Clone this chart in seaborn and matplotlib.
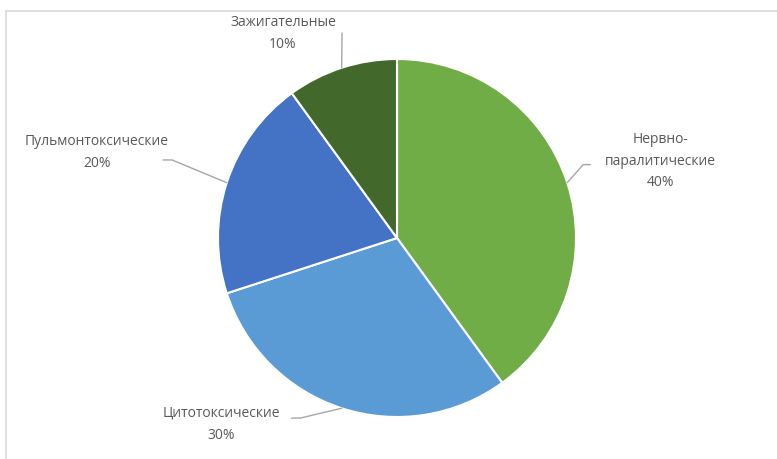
import numpy as np
import matplotlib
matplotlib.use("Agg")
import matplotlib.pyplot as plt
import seaborn as sns
from matplotlib.lines import Line2D

sns.set_theme(style="white")
plt.rcParams['font.family'] = ['Open Sans', 'DejaVu Sans']

categories = ["Нервно-\nпаралитические", "Цитотоксические", "Пульмонтоксические", "Зажигательные"]
values = [40, 30, 20, 10]
colors = ["#70AD47", "#5B9BD5", "#4472C4", "#43682B"]

W, H = 777, 459
fig = plt.figure(figsize=(W / 100, H / 100), dpi=100)
cx, cy, r = 397, 238, 179
ax = fig.add_axes([(cx - r) / W, (H - cy - r) / H, 2 * r / W, 2 * r / H])

wedges, _ = ax.pie(values, colors=colors, startangle=90, counterclock=False,
                   radius=1.0, wedgeprops=dict(edgecolor="white", linewidth=1.5))
ax.set_xlim(-1, 1)
ax.set_ylim(-1, 1)
ax.set_axis_off()

# label layout in data units: text centre, leader elbow, leader end
layout = [
    dict(text=(1.47, 0.43), elbow=(1.04, 0.41), end=(1.08, 0.41)),
    dict(text=(-0.98, -1.04), elbow=(-0.54, -1.006), end=(-0.59, -1.006)),
    dict(text=(-1.676, 0.478), elbow=(-1.257, 0.436), end=(-1.307, 0.436)),
    dict(text=(-0.637, 1.142), elbow=(-0.307, 1.145), end=(-0.307, 1.145)),
]
line_col = "#A6A6A6"
for w, cat, v, lay in zip(wedges, categories, values, layout):
    ang = np.deg2rad((w.theta1 + w.theta2) / 2)
    px, py = np.cos(ang), np.sin(ang)
    ex, ey = lay["elbow"]
    fx, fy = lay["end"]
    ax.add_line(Line2D([px, ex, fx], [py, ey, fy], color=line_col, lw=1.0, clip_on=False))
    tx, ty = lay["text"]
    ax.text(tx, ty, f"{cat}\n{v}%", ha="center", va="center", fontsize=10,
            color="#595959", linespacing=1.62, clip_on=False)

# chart frame (partially cropped)
fig.add_artist(Line2D([6 / W, 6 / W], [0, 1 - 10.5 / H], transform=fig.transFigure,
                      color="#D9D9D9", lw=1.2))
fig.add_artist(Line2D([6 / W, 1], [1 - 10.5 / H, 1 - 10.5 / H], transform=fig.transFigure,
                      color="#D9D9D9", lw=1.2))

fig.savefig("out.png", dpi=100, facecolor="white")
